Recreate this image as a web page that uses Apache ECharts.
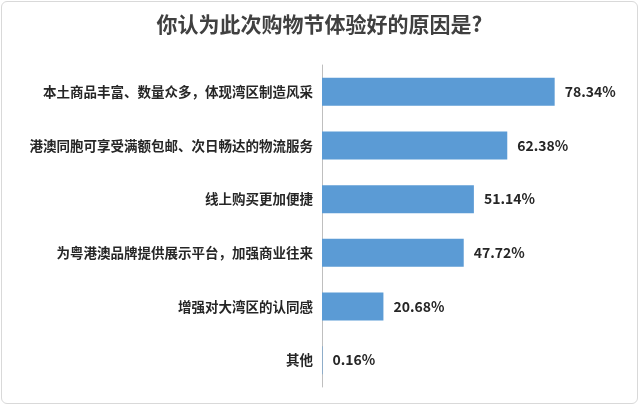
<!DOCTYPE html>
<html><head><meta charset="utf-8">
<script src="https://cdn.jsdelivr.net/npm/echarts@6/dist/echarts.min.js"></script>
<style>html,body{margin:0;padding:0;background:#fff}
#c{position:absolute;left:1px;top:1px;width:637px;height:403px;border:1px solid #d9d9d9;border-radius:6px;box-sizing:border-box}</style>
</head><body><div id="c"></div>
<script>
const categories = ['本土商品丰富、数量众多，体现湾区制造风采', '港澳同胞可享受满额包邮、次日畅达的物流服务', '线上购买更加便捷', '为粤港澳品牌提供展示平台，加强商业往来', '增强对大湾区的认同感', '其他'];
const values = [78.34, 62.38, 51.14, 47.72, 20.68, 0.16];

const chart = echarts.init(document.getElementById('c'));
chart.setOption({
    title: {
        text: '你认为此次购物节体验好的原因是?',
        left: 'center', top: 7,
        textStyle: { fontSize: 21, fontWeight: 'bold', color: '#404040', fontFamily: 'Noto Sans CJK SC' }
    },
    grid: { left: 320, right: 18, top: 63, bottom: 16 },
    xAxis: { type: 'value', min: 0, max: 100, show: false },
    yAxis: {
        type: 'category', data: categories, inverse: true,
        axisLine: { show: true, lineStyle: { color: '#bfbfbf' } },
        axisTick: { show: false },
        axisLabel: { color: '#262626', fontSize: 13.5, fontWeight: 'bold', margin: 9, fontFamily: 'Noto Sans CJK SC' }
    },
    series: [{
        type: 'bar', data: values, barWidth: 28,
        itemStyle: { color: '#5b9bd5' },
        label: {
            show: true, position: 'right', distance: 10, formatter: p => p.value.toFixed(2) + '%',
            color: '#262626', fontSize: 14, fontWeight: 'bold', fontFamily: 'Noto Sans CJK SC'
        }
    }]
});
</script></body></html>
